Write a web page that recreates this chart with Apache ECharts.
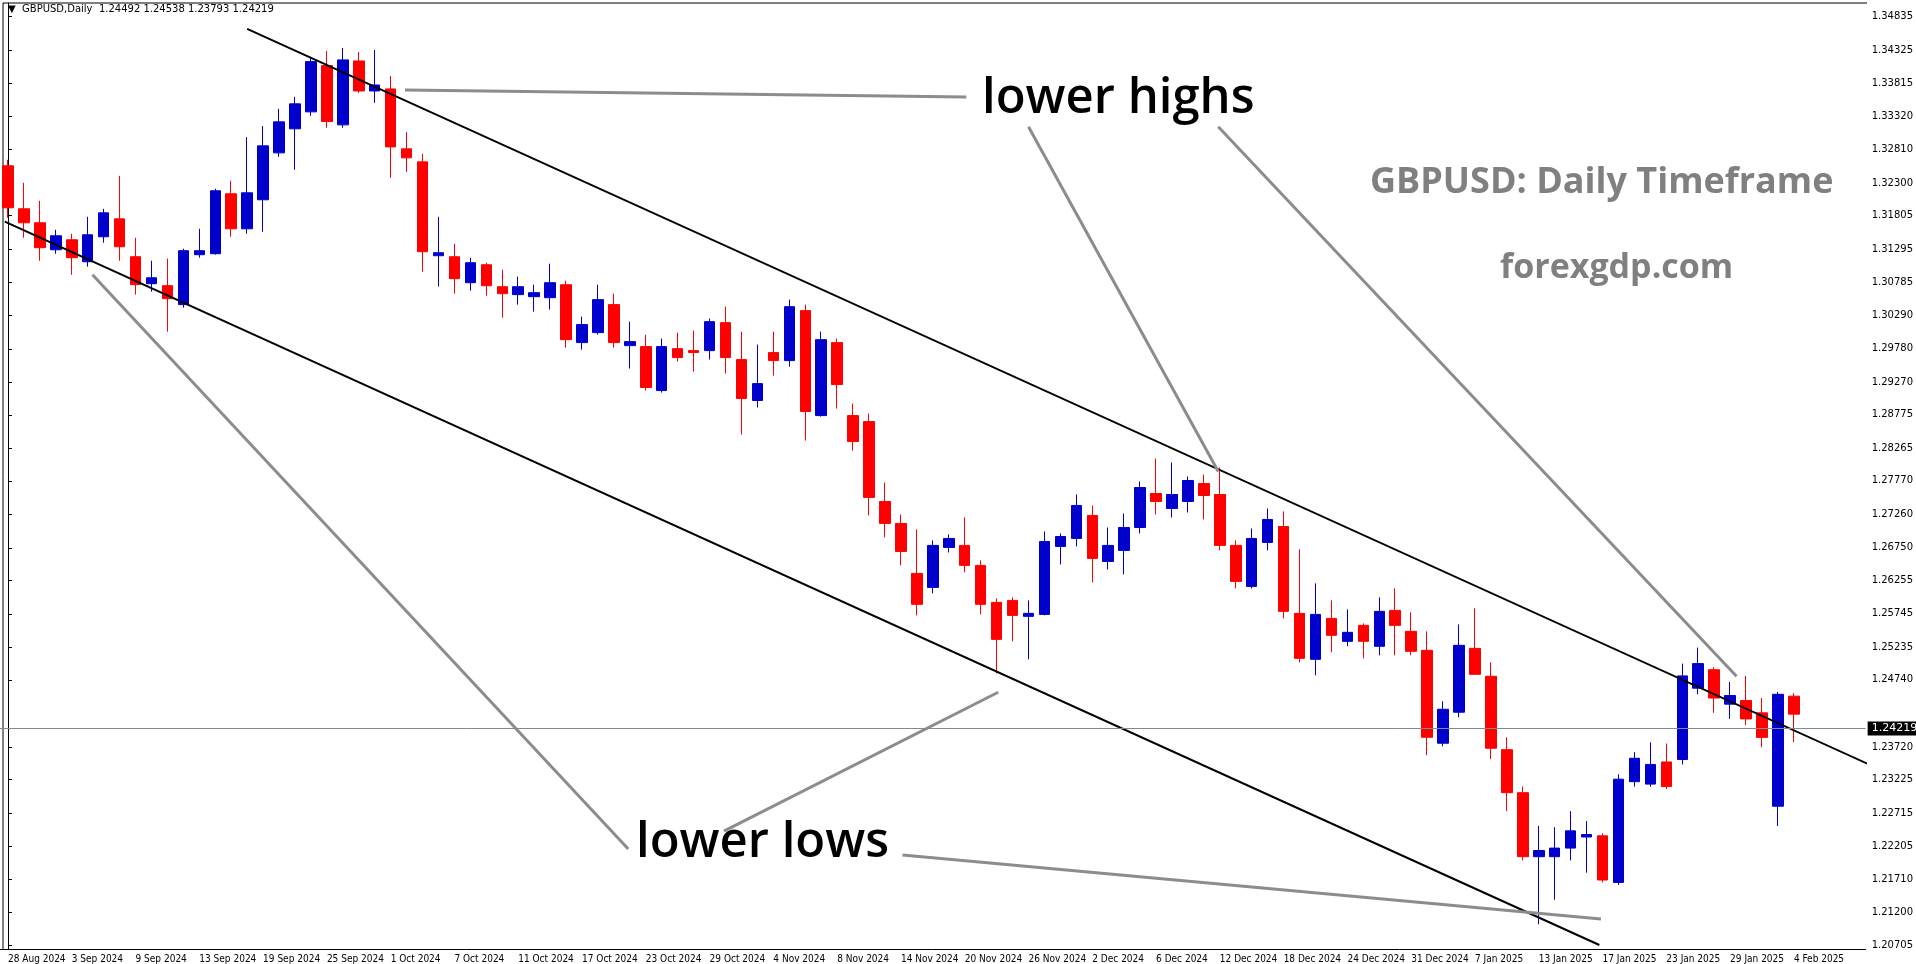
<!DOCTYPE html>
<html><head><meta charset="utf-8">
<script src="https://cdn.jsdelivr.net/npm/echarts@6/dist/echarts.min.js"></script>
<style>html,body{margin:0;padding:0;background:#fff}#c{width:1916px;height:964px}</style>
</head><body><div id="c"></div>
<script>
const tickLabels = ['28 Aug 2024','3 Sep 2024','9 Sep 2024','13 Sep 2024','19 Sep 2024','25 Sep 2024','1 Oct 2024','7 Oct 2024','11 Oct 2024','17 Oct 2024','23 Oct 2024','29 Oct 2024','4 Nov 2024','8 Nov 2024','14 Nov 2024','20 Nov 2024','26 Nov 2024','2 Dec 2024','6 Dec 2024','12 Dec 2024','18 Dec 2024','24 Dec 2024','31 Dec 2024','7 Jan 2025','13 Jan 2025','17 Jan 2025','23 Jan 2025','29 Jan 2025','4 Feb 2025'];
const priceTicks = [1.34835,1.34325,1.33815,1.33320,1.32810,1.32300,1.31805,1.31295,1.30785,1.30290,1.29780,1.29270,1.28775,1.28265,1.27770,1.27260,1.26750,1.26255,1.25745,1.25235,1.24740,1.23720,1.23225,1.22715,1.22205,1.21710,1.21200,1.20705];
const open  = [1.32565,1.31911,1.31698,1.31287,1.31439,1.31105,1.31485,1.31758,1.31181,1.30770,1.30740,1.30452,1.31212,1.31227,1.32139,1.31606,1.32048,1.32762,1.33128,1.33386,1.34090,1.33188,1.34161,1.33704,1.33735,1.32823,1.32625,1.31196,1.31181,1.30786,1.31059,1.30725,1.30604,1.30573,1.30558,1.30755,1.29874,1.30026,1.30452,1.29828,1.29813,1.29144,1.29782,1.29752,1.29752,1.30178,1.29615,1.28992,1.29722,1.29600,1.30361,1.28763,1.29874,1.28763,1.28672,1.27456,1.27121,1.26361,1.26148,1.26756,1.26787,1.26483,1.25920,1.25950,1.25707,1.25737,1.26771,1.26893,1.27243,1.26543,1.26711,1.27060,1.27577,1.27349,1.27456,1.27729,1.27562,1.26787,1.26163,1.26832,1.27075,1.25753,1.25053,1.25676,1.25327,1.25570,1.25251,1.25798,1.25479,1.25190,1.23776,1.24248,1.25220,1.24795,1.23678,1.23023,1.22049,1.22049,1.22180,1.22349,1.22367,1.21657,1.23191,1.23154,1.23491,1.23528,1.24614,1.24895,1.24371,1.24427,1.24239,1.22817,1.24492];
const high  = [1.32656,1.32306,1.32032,1.31591,1.31530,1.31789,1.31910,1.32412,1.31470,1.31120,1.31151,1.31303,1.31606,1.32215,1.32337,1.33002,1.33169,1.33432,1.33615,1.34224,1.34313,1.34359,1.34298,1.34328,1.33933,1.33077,1.32747,1.31789,1.31379,1.31166,1.31090,1.30983,1.30877,1.30755,1.31075,1.30816,1.30269,1.30755,1.30619,1.30193,1.29995,1.29934,1.30026,1.30056,1.30239,1.30421,1.30041,1.29844,1.30041,1.30528,1.30452,1.30041,1.29934,1.28946,1.28794,1.27745,1.27258,1.27030,1.26863,1.26954,1.27212,1.26559,1.25981,1.25996,1.25950,1.26999,1.26969,1.27562,1.27395,1.27060,1.27273,1.27760,1.28109,1.28049,1.27836,1.27866,1.27973,1.26863,1.27045,1.27349,1.27304,1.26726,1.26209,1.25950,1.25813,1.25600,1.25996,1.26133,1.25768,1.25479,1.24415,1.25585,1.25829,1.25008,1.23865,1.23116,1.22517,1.22498,1.22742,1.22592,1.22405,1.23304,1.23641,1.23790,1.23771,1.24988,1.25232,1.24932,1.24708,1.24801,1.24464,1.24558,1.24538];
const low   = [1.31774,1.31470,1.31120,1.31227,1.30906,1.31029,1.31394,1.31120,1.30604,1.30648,1.30041,1.30406,1.31166,1.31212,1.31485,1.31530,1.31561,1.32701,1.32504,1.33325,1.33143,1.33143,1.33675,1.33523,1.32382,1.32473,1.30953,1.30726,1.30619,1.30664,1.30588,1.30254,1.30452,1.30345,1.30376,1.29798,1.29767,1.29995,1.29798,1.29479,1.29144,1.29114,1.29585,1.29433,1.29616,1.29403,1.28474,1.28885,1.29372,1.29509,1.28383,1.28748,1.28870,1.28231,1.27243,1.26909,1.26483,1.25722,1.26057,1.26680,1.26376,1.25737,1.24840,1.25327,1.25053,1.25722,1.26498,1.26771,1.26224,1.26422,1.26346,1.26969,1.27258,1.27212,1.27288,1.27182,1.26711,1.26133,1.26133,1.26711,1.25676,1.25007,1.24810,1.25160,1.25251,1.25068,1.25114,1.25114,1.25114,1.23593,1.23730,1.24172,1.24825,1.23533,1.22742,1.21993,1.21020,1.21394,1.21993,1.21806,1.21657,1.21619,1.23116,1.23116,1.23079,1.23453,1.24521,1.24239,1.24146,1.24053,1.23715,1.22517,1.23793];
const close = [1.31926,1.31698,1.31318,1.31500,1.31166,1.31515,1.31849,1.31333,1.30756,1.30861,1.30543,1.31273,1.31273,1.32185,1.31606,1.32154,1.32869,1.33234,1.33508,1.34151,1.33239,1.34177,1.33704,1.33795,1.32853,1.32686,1.31257,1.31242,1.30847,1.31090,1.30740,1.30619,1.30725,1.30634,1.30786,1.29919,1.30148,1.30528,1.29874,1.29889,1.29190,1.29813,1.29646,1.29722,1.30193,1.29646,1.29022,1.29250,1.29600,1.30421,1.28824,1.29919,1.29235,1.28368,1.27517,1.27122,1.26695,1.25890,1.26787,1.26893,1.26483,1.25890,1.25357,1.25722,1.25753,1.26847,1.26923,1.27395,1.26589,1.26787,1.27060,1.27668,1.27456,1.27562,1.27775,1.27547,1.26787,1.26239,1.26893,1.27182,1.25783,1.25068,1.25737,1.25418,1.25464,1.25327,1.25783,1.25570,1.25175,1.23867,1.24293,1.25266,1.24825,1.23700,1.23023,1.22049,1.22143,1.22180,1.22442,1.22386,1.21694,1.23229,1.23547,1.23453,1.23116,1.24801,1.24988,1.24464,1.24502,1.24146,1.23865,1.24521,1.24219];
const lastPrice = 1.24219;
// trend lines [candle index, price]
const upperChannel = [[15.0,1.34648],[116.7,1.23455]];
const lowerChannel = [[-0.2,1.31714],[99.8,1.20705]];
const pointers = [
  [[24.9,1.33720],[60.1,1.33614]],
  [[64.0,1.33158],[75.9,1.27912]],
  [[75.9,1.33158],[108.4,1.24795]],
  [[5.3,1.30908],[38.9,1.22165]],
  [[44.9,1.22438],[62.1,1.24552]],
  [[56.1,1.22073],[99.9,1.21101]]
];
const SLOTS = 117;

const cats = [];
for (let i = 0; i < SLOTS; i++) cats.push(String(i));
const candles = open.map((o, i) => [o, close[i], low[i], high[i]]);

const chart = echarts.init(document.getElementById('c'), null, {renderer:'canvas'});
const series = [{
  type:'candlestick', data:candles, barWidth:11,
  itemStyle:{color:'#0000CD', color0:'#FF0000', borderColor:'#0000CD', borderColor0:'#FF0000', borderWidth:1},
  markLine:{silent:true, symbol:'none', animation:false,
    lineStyle:{color:'#7d8a99', width:1, type:'solid'},
    label:{position:'end', formatter:()=>lastPrice.toFixed(5), backgroundColor:'#000', color:'#fff',
      fontFamily:'DejaVu Sans', fontSize:11, padding:[2,4,1,4], distance:2},
    data:[{yAxis:lastPrice}]}
}];
[upperChannel, lowerChannel].forEach(l => series.push({type:'line', xAxisIndex:1, data:l, symbol:'none',
  lineStyle:{color:'#000', width:2}, silent:true, z:3}));
pointers.forEach(l => series.push({type:'line', xAxisIndex:1, data:l, symbol:'none',
  lineStyle:{color:'#8c8c8c', width:3}, silent:true, z:3}));

chart.setOption({
  animation:false,
  grid:{left:-5, top:3, width:SLOTS*16, bottom:14, containLabel:false},
  xAxis:[{type:'category', data:cats, boundaryGap:true,
    axisLine:{lineStyle:{color:'#000', width:1}},
    axisTick:{interval:3, alignWithLabel:true, length:4, lineStyle:{color:'#000'}},
    axisLabel:{interval:3, align:'left', margin:5, color:'#000', fontFamily:'DejaVu Sans Condensed, DejaVu Sans', fontSize:10,
      formatter:(v, i)=> tickLabels[i/4] || ''},
    splitLine:{show:false}},
   {type:'value', min:-0.5, max:SLOTS-0.5, show:false}],
  yAxis:{type:'value', position:'right', min:1.20644, max:1.35043, scale:true,
    axisLine:{show:true, lineStyle:{color:'#000'}},
    axisTick:{show:true, customValues:priceTicks, length:4, lineStyle:{color:'#000'}},
    axisLabel:{customValues:priceTicks, formatter:v=>v.toFixed(5), color:'#000', fontFamily:'DejaVu Sans', fontSize:10, margin:6},
    splitLine:{show:false}},
  series:series,
  graphic:[
    {type:'line', shape:{x1:3,y1:3,x2:3,y2:950}, style:{stroke:'#000', lineWidth:1}},
    {type:'line', shape:{x1:3,y1:3,x2:1867,y2:3}, style:{stroke:'#000', lineWidth:1}},
    {type:'text', left:8, top:4, style:{text:'\u25BC  GBPUSD,Daily  1.24492 1.24538 1.23793 1.24219', fill:'#000', font:'10px "DejaVu Sans"'}},
    {type:'text', left:982, top:75, style:{text:'lower highs', fill:'#000', font:'600 49px "Open Sans"'}},
    {type:'text', left:636, top:819, style:{text:'lower lows', fill:'#000', font:'600 49px "Open Sans"'}},
    {type:'text', left:1370, top:165, style:{text:'GBPUSD: Daily Timeframe', fill:'#808080', font:'bold 36px "Open Sans"'}},
    {type:'text', left:1500, top:251, style:{text:'forexgdp.com', fill:'#808080', font:'bold 34px "Open Sans"'}}
  ]
});
</script></body></html>
